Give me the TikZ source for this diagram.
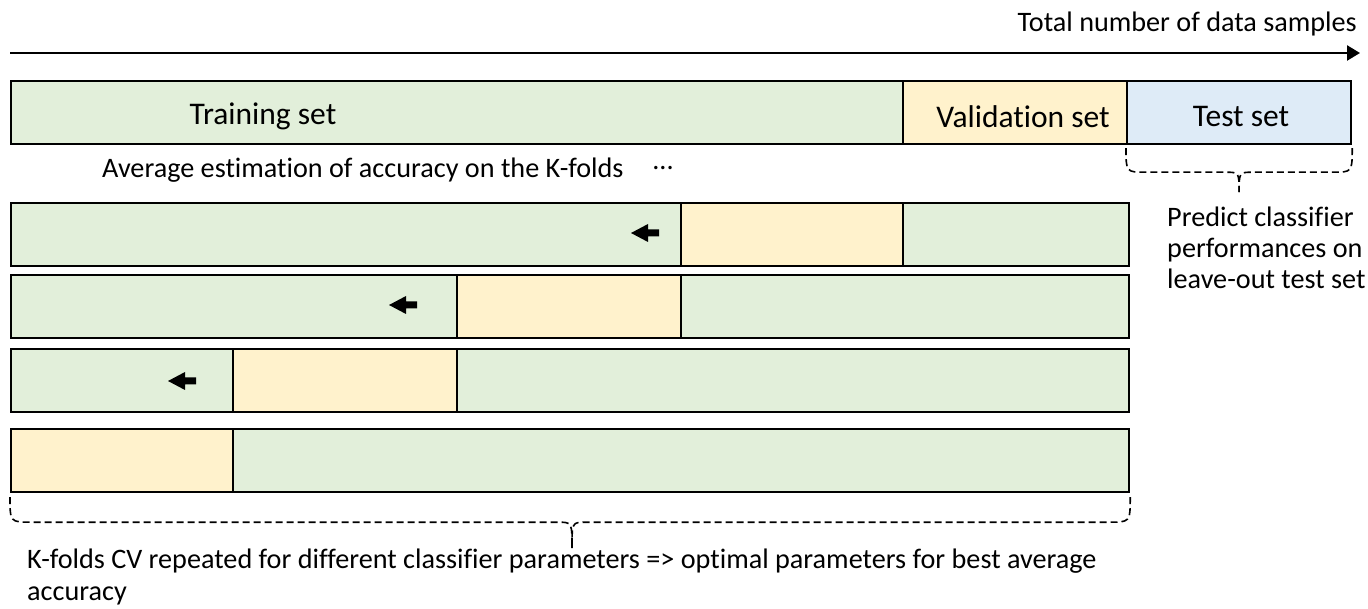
\documentclass[tikz,border=0pt]{standalone}
\usepackage{fontspec}
\setmainfont{Carlito}[Ligatures={NoCommon}]
\usetikzlibrary{arrows.meta,calc}
\definecolor{trainfill}{HTML}{E2EFDA}
\definecolor{valfill}{HTML}{FFF2CC}
\definecolor{testfill}{HTML}{DEEBF7}
\tikzset{
  bar/.style={draw=black, line width=2.2pt, inner sep=0pt, anchor=north west, minimum height=63pt},
  trainbar/.style={bar, fill=trainfill},
  valbar/.style={bar, fill=valfill},
  testbar/.style={bar, fill=testfill},
  barlabel/.style={font=\fontsize{31.5}{36}\selectfont, inner sep=0pt},
  caption/.style={font=\fontsize{28.2}{31}\selectfont, inner sep=0pt},
  bracepath/.style={line width=1.6pt, dash pattern=on 7pt off 4pt},
  movearrow/.pic={
    \fill[black] (-14,0) -- (3,-9) -- (3,-3.5) -- (14,-3.5) -- (14,3.5) -- (3,3.5) -- (3,9) -- cycle;
  }
}
\begin{document}
\begin{tikzpicture}[x=1pt,y=-1pt]
\useasboundingbox (0,0) rectangle (1368,609);

% sample axis
\coordinate (axL) at (10,53);
\coordinate (axR) at (1360,53);
\draw[line width=2.5pt, -{Triangle[length=13pt,width=15pt]}] (axL) -- (axR);
\node[caption, anchor=east] (axtitle) at (1357,24) {Total number of data samples};

% full split of the data
\node[trainbar, minimum width=892pt] (train) at (10,80) {};
\node[valbar, minimum width=224pt] (val) at (902,80) {};
\node[testbar, minimum width=224pt] (test) at (1126,80) {};
\node[barlabel] (trainlbl) at (263,116) {Training set};
\node[barlabel] (vallbl) at ($(val.center)+(8,4)$) {Validation set};
\node[barlabel] (testlbl) at ($(test.center)+(2,4)$) {Test set};

\node[caption, anchor=west] (avg) at (102,170) {Average estimation of accuracy on the K-folds};
\node[caption] (dots) at (663,168) {...};

% K folds
\node[trainbar, minimum width=1118pt] (f1) at (10,202) {};
\node[valbar, minimum width=222pt] (v1) at (680,202) {};
\node[trainbar, minimum width=1118pt] (f2) at (10,274) {};
\node[valbar, minimum width=224pt] (v2) at (456,274) {};
\node[trainbar, minimum width=1118pt] (f3) at (10,348) {};
\node[valbar, minimum width=224pt] (v3) at (232,348) {};
\node[trainbar, minimum width=1118pt] (f4) at (10,428) {};
\node[valbar, minimum width=222pt] (v4) at (10,428) {};

% direction in which the validation fold moves
\pic (s1) at (645,233) {movearrow};
\pic (s2) at (403,305) {movearrow};
\pic (s3) at (182,381) {movearrow};

% brace under the test set
\coordinate (tbL) at ($(test.south west)+(0,3)$);
\coordinate (tbR) at ($(test.south east)+(0,3)$);
\coordinate (tbM) at ($(tbL)!0.5!(tbR)$);
\draw[bracepath]
  (tbL) .. controls ($(tbL)+(0,24)$) .. ($(tbL)+(20,24)$)
  -- ($(tbM)+(-14,24)$) .. controls ($(tbM)+(0,24)$) .. ($(tbM)+(0,44)$);
\draw[bracepath]
  (tbR) .. controls ($(tbR)+(0,24)$) .. ($(tbR)+(-20,24)$)
  -- ($(tbM)+(14,24)$) .. controls ($(tbM)+(0,24)$) .. ($(tbM)+(0,44)$);
\node[caption, anchor=north west, align=left] (predict) at (1167,207)
  {Predict classifier\\performances on\\leave-out test set};

% brace under the folds
\coordinate (fbL) at ($(f4.south west)+(0,4)$);
\coordinate (fbR) at ($(f4.south east)+(0,4)$);
\coordinate (fbM) at ($(fbL)+(562,0)$);
\draw[bracepath]
  (fbL) .. controls ($(fbL)+(0,25)$) .. ($(fbL)+(22,25)$)
  -- ($(fbM)+(-14,25)$) .. controls ($(fbM)+(0,25)$) .. ($(fbM)+(0,51)$);
\draw[bracepath]
  (fbR) .. controls ($(fbR)+(0,25)$) .. ($(fbR)+(-22,25)$)
  -- ($(fbM)+(14,25)$) .. controls ($(fbM)+(0,25)$) .. ($(fbM)+(0,51)$);
\node[caption, anchor=north west, align=left, font=\fontsize{28.2}{32}\selectfont] (kfold) at (27,549)
  {K-folds CV repeated for different classifier parameters => optimal parameters for best average\\accuracy};
\end{tikzpicture}
\end{document}
